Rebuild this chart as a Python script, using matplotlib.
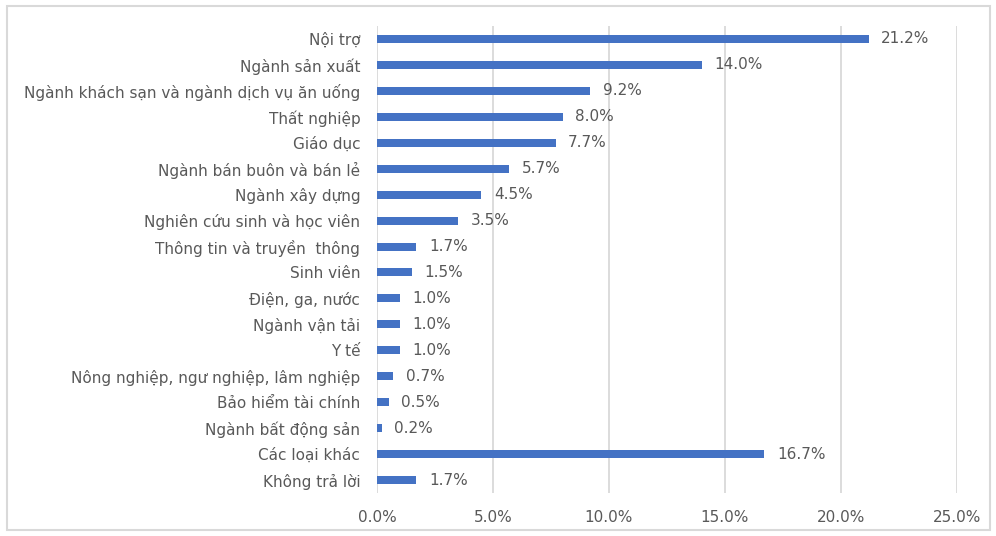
import matplotlib
matplotlib.use("Agg")
import matplotlib.pyplot as plt
from matplotlib.ticker import FuncFormatter
from matplotlib.patches import Rectangle

categories = [
    "Nội trợ",
    "Ngành sản xuất",
    "Ngành khách sạn và ngành dịch vụ ăn uống",
    "Thất nghiệp",
    "Giáo dục",
    "Ngành bán buôn và bán lẻ",
    "Ngành xây dựng",
    "Nghiên cứu sinh và học viên",
    "Thông tin và truyền  thông",
    "Sinh viên",
    "Điện, ga, nước",
    "Ngành vận tải",
    "Y tế",
    "Nông nghiệp, ngư nghiệp, lâm nghiệp",
    "Bảo hiểm tài chính",
    "Ngành bất động sản",
    "Các loại khác",
    "Không trả lời",
]
values = [21.2, 14.0, 9.2, 8.0, 7.7, 5.7, 4.5, 3.5, 1.7, 1.5, 1.0, 1.0, 1.0, 0.7, 0.5, 0.2, 16.7, 1.7]
xticks = [0, 5, 10, 15, 20, 25]

plt.rcParams['font.family'] = ['DejaVu Sans']
text_color = "#595959"
bar_color = "#4472C4"
fs = 11

fig = plt.figure(figsize=(9.96, 5.36), dpi=100)
ax = fig.add_axes([377/996, 1-493/536, (957-377)/996, (493-26)/536])

y = list(range(len(categories)))
ax.barh(y, values, height=0.31, color=bar_color, zorder=3)
ax.set_ylim(len(categories) - 0.5, -0.5)
ax.set_xlim(0, 25)
ax.set_yticks(y)
ax.set_yticklabels(categories, fontsize=fs, color=text_color)
ax.set_xticks(xticks)
ax.xaxis.set_major_formatter(FuncFormatter(lambda v, p: f"{v:.1f}%"))
ax.tick_params(axis='x', labelsize=fs, labelcolor=text_color, length=0, pad=12)
ax.tick_params(axis='y', length=0, pad=12)
for s in ax.spines.values():
    s.set_visible(False)
ax.grid(axis='x', color="#d9d9d9", linewidth=1.3, zorder=0)
ax.set_axisbelow(True)

for yi, v in zip(y, values):
    ax.annotate(f"{v:.1f}%", xy=(v, yi), xytext=(9, 0), textcoords="offset points",
                va='center', ha='left', fontsize=fs, color=text_color)

fig.patches.append(Rectangle((7/996, 6/536), (990-7)/996, (530-6)/536, transform=fig.transFigure,
                             fill=False, edgecolor="#d9d9d9", linewidth=1.5))

fig.savefig("out.png", dpi=100)
